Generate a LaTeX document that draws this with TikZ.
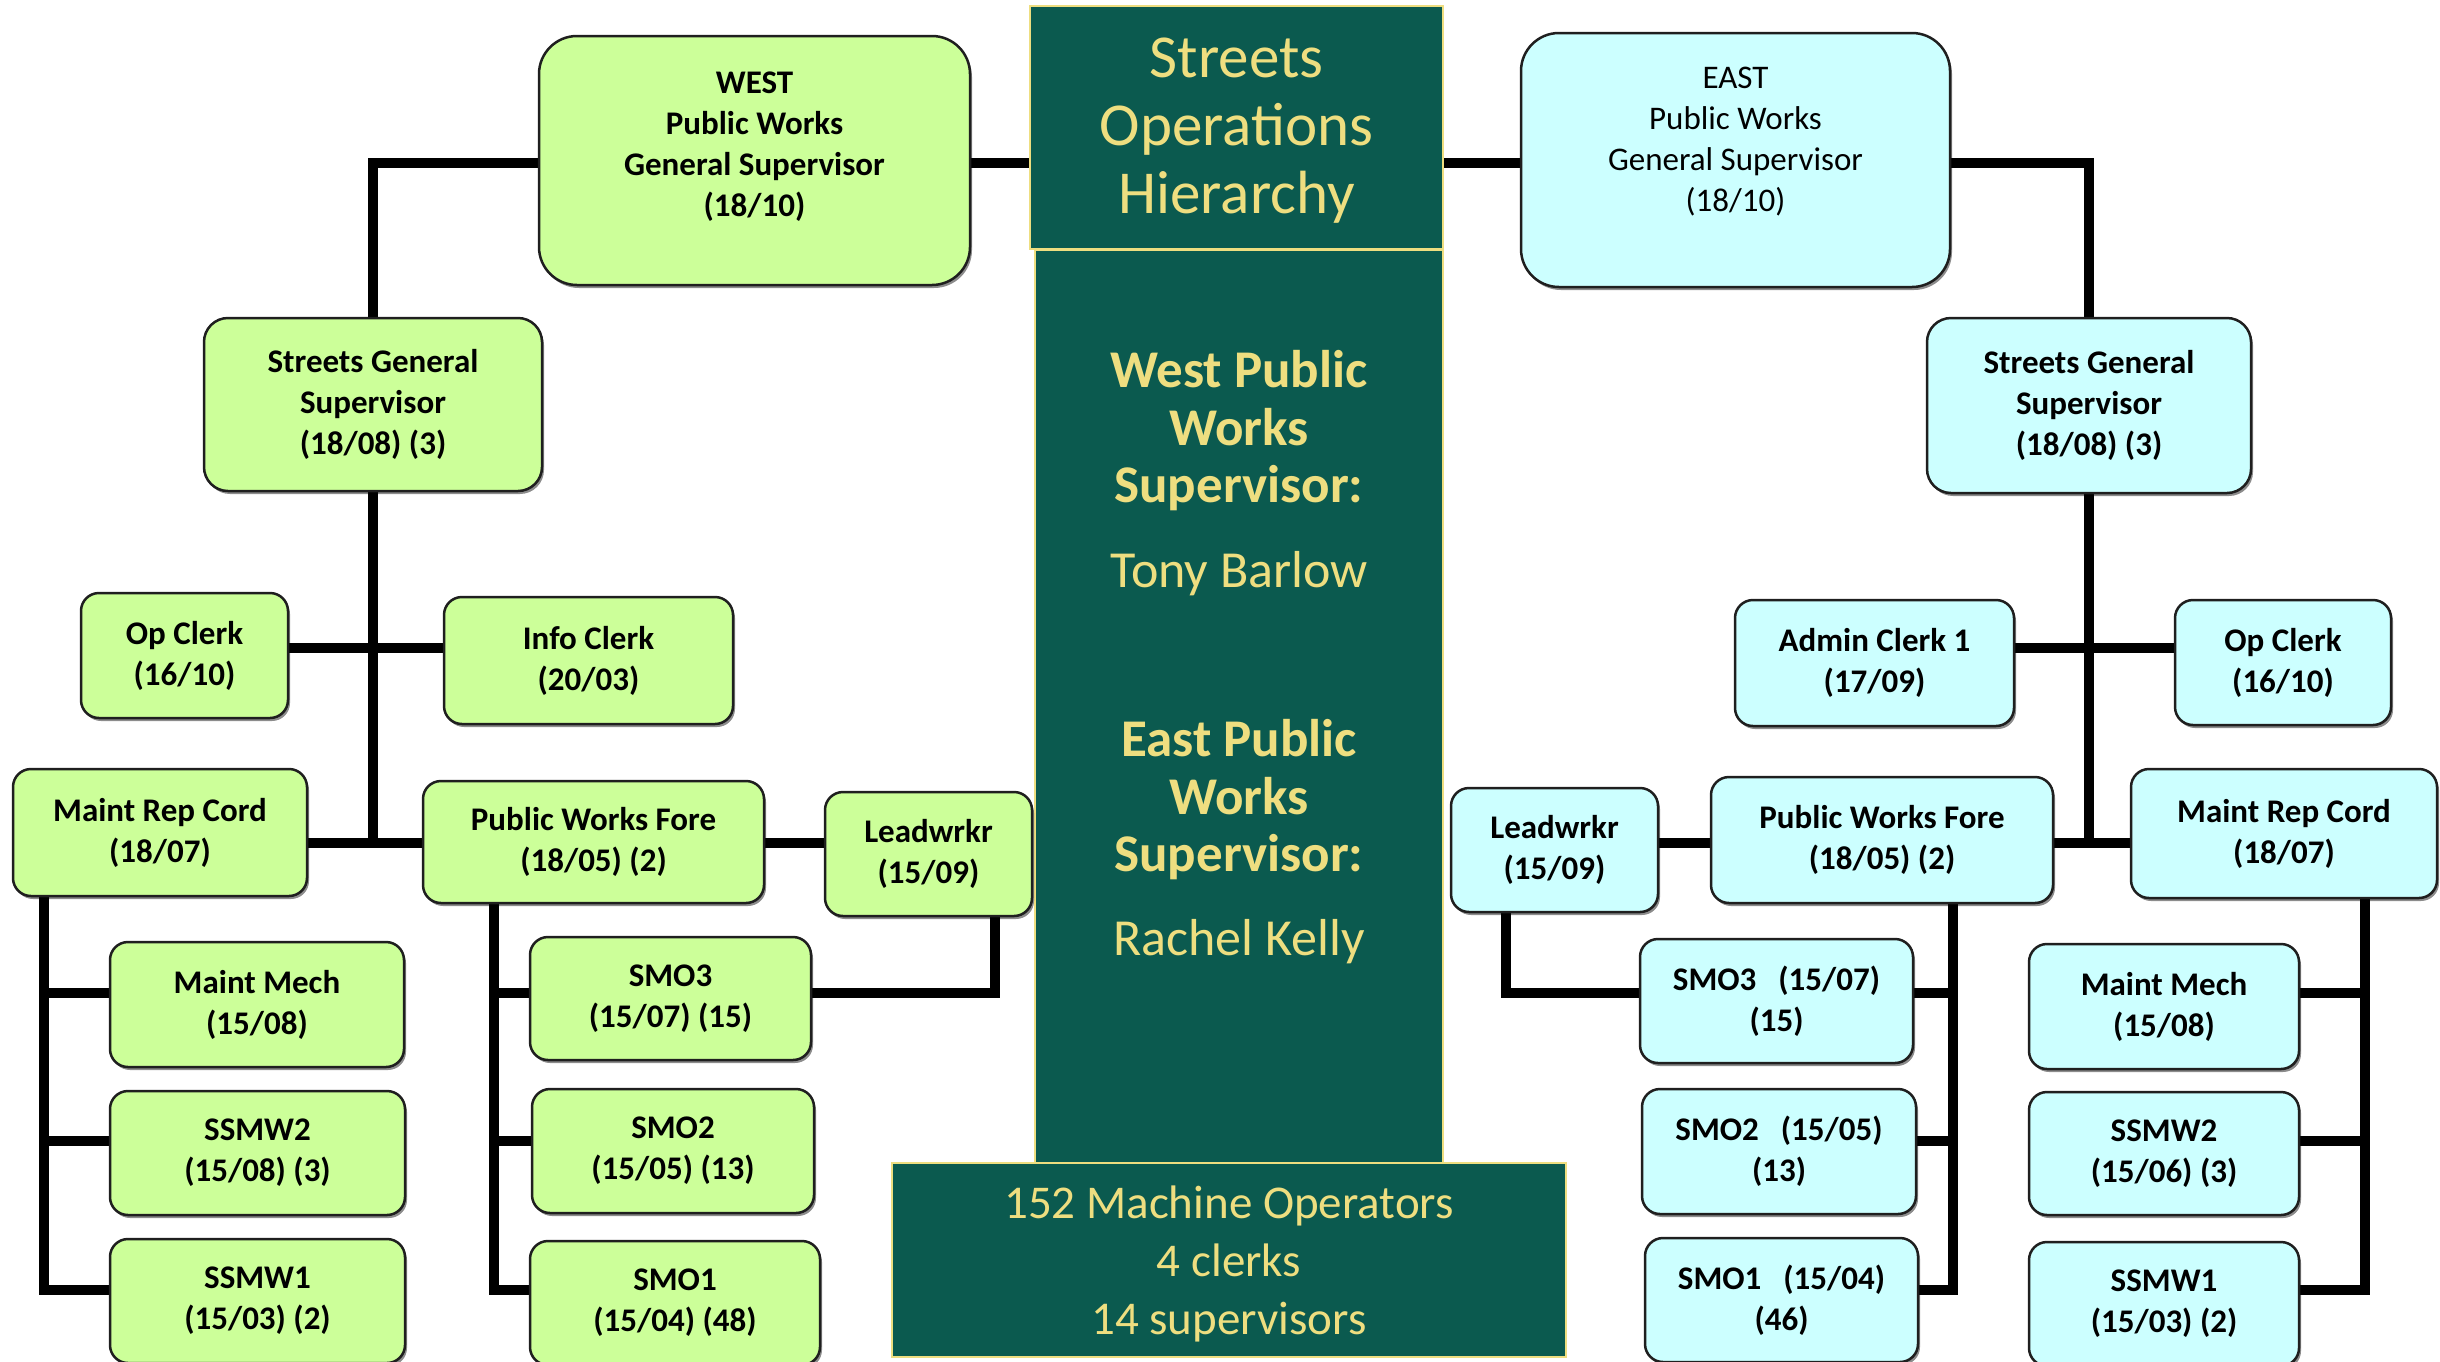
\documentclass[tikz,border=0pt]{standalone}
\usepackage{fontspec}
\setmainfont{Carlito}
\usetikzlibrary{shadows}
\pgfdeclarelayer{bg}
\pgfsetlayers{bg,main}
\definecolor{panelbg}{RGB}{11,90,79}
\definecolor{panelfg}{RGB}{238,222,128}
\definecolor{wfill}{RGB}{204,255,153}
\definecolor{efill}{RGB}{204,255,255}
\begin{document}
\begin{tikzpicture}[x=1pt,y=-1pt,
  sz/.style 2 args={minimum width=#1pt, minimum height=#2pt},
  box/.style={draw=black!88, line width=2.5pt, rounded corners=18pt, align=center,
    inner sep=0pt, font=\bfseries\fontsize{33}{41}\selectfont,
    drop shadow={shadow xshift=2pt, shadow yshift=-3pt, opacity=.45, fill=black}},
  wbox/.style={box, fill=wfill},
  ebox/.style={box, fill=efill},
  toptext/.style={align=center, inner sep=0pt, font=\bfseries\fontsize{33}{41}\selectfont},
  panel/.style={fill=panelbg, draw=panelfg, line width=2pt, text=panelfg, align=center, inner sep=0pt},
  midtext/.style={text=panelfg, align=center, inner sep=0pt},
  conn/.style={line width=10pt, line join=miter, line cap=rect}]
\useasboundingbox (0,0) rectangle (2440,1361);
\clip (0,0) rectangle (2440,1361);

% centre panels
\node[panel, sz={408}{913}] (mid) at (1239,706.5) {};
\node[panel, sz={413}{243}] (title) at (1236.5,127.5) {};
\node[midtext, font=\fontsize{61}{68}\selectfont] (titlet) at (1236.5,130.5) {Streets\\Operations\\Hierarchy};
\node[panel, sz={674}{194}] (count) at (1229,1260) {};
\node[midtext, font=\fontsize{47}{58}\selectfont] (countt) at (1229,1264) {152 Machine Operators\\4 clerks\\14 supervisors};
\node[midtext, font=\bfseries\fontsize{53}{57.5}\selectfont] (wsup) at (1239,431) {West Public\\Works\\Supervisor:};
\node[midtext, font=\fontsize{52}{58}\selectfont] (wname) at (1239,574) {Tony Barlow};
\node[midtext, font=\bfseries\fontsize{53}{57.5}\selectfont] (esup) at (1239,800) {East Public\\Works\\Supervisor:};
\node[midtext, font=\fontsize{52}{58}\selectfont] (ename) at (1239,942) {Rachel Kelly};

% west
\node[wbox, rounded corners=38pt, sz={431}{249}] (wtop) at (754.5,160.5) {};
\node[toptext] (wtopt) at (754.5,147) {WEST\\Public Works\\General Supervisor\\(18/10)};
\node[wbox, rounded corners=24pt, sz={338}{173}] (wsgs) at (373,404.5) {Streets General\\Supervisor\\(18/08) (3)};
\node[wbox, sz={207}{125}] (wop) at (184.5,655.5) {Op Clerk\\(16/10)};
\node[wbox, sz={289}{127}] (winfo) at (588.5,660.5) {Info Clerk\\(20/03)};
\node[wbox, sz={294}{127}] (wmrc) at (160,832.5) {Maint Rep Cord\\(18/07)};
\node[wbox, sz={341}{122}] (wpwf) at (593.5,842) {Public Works Fore\\(18/05) (2)};
\node[wbox, sz={207}{124}] (wlead) at (928.5,854) {Leadwrkr\\(15/09)};
\node[wbox, sz={294}{125}] (wmm) at (257,1004.5) {Maint Mech\\(15/08)};
\node[wbox, sz={295}{124}] (wss2) at (257.5,1153) {SSMW2\\(15/08) (3)};
\node[wbox, sz={295}{124}] (wss1) at (257.5,1301) {SSMW1\\(15/03) (2)};
\node[wbox, sz={281}{123}] (wsmo3) at (670.5,998.5) {SMO3\\(15/07) (15)};
\node[wbox, sz={282}{124}] (wsmo2) at (673,1151) {SMO2\\(15/05) (13)};
\node[wbox, sz={290}{124}] (wsmo1) at (675,1303) {SMO1\\(15/04) (48)};

% east
\node[ebox, rounded corners=38pt, sz={429}{254}] (etop) at (1735.5,160) {};
\node[toptext, font=\fontsize{33}{41}\selectfont] (etopt) at (1735.5,142) {EAST\\Public Works\\General Supervisor\\(18/10)};
\node[ebox, rounded corners=24pt, sz={324}{175}] (esgs) at (2089,405.5) {Streets General\\Supervisor\\(18/08) (3)};
\node[ebox, sz={279}{126}] (eadmin) at (1874.5,663) {Admin Clerk 1\\(17/09)};
\node[ebox, sz={216}{125}] (eop) at (2283,662.5) {Op Clerk\\(16/10)};
\node[ebox, sz={207}{124}] (elead) at (1554.5,850) {Leadwrkr\\(15/09)};
\node[ebox, sz={342}{126}] (epwf) at (1882,840) {Public Works Fore\\(18/05) (2)};
\node[ebox, sz={306}{129}] (emrc) at (2284,833.5) {Maint Rep Cord\\(18/07)};
\node[ebox, sz={273}{124}] (esmo3) at (1776.5,1001) {SMO3\hspace{22pt}(15/07)\\(15)};
\node[ebox, sz={274}{125}] (esmo2) at (1779,1151.5) {SMO2\hspace{22pt}(15/05)\\(13)};
\node[ebox, sz={273}{124}] (esmo1) at (1781.5,1300) {SMO1\hspace{22pt}(15/04)\\(46)};
\node[ebox, sz={270}{125}] (emm) at (2164,1006.5) {Maint Mech\\(15/08)};
\node[ebox, sz={270}{123}] (ess2) at (2164,1153.5) {SSMW2\\(15/06) (3)};
\node[ebox, sz={270}{124}] (ess1) at (2164,1304) {SSMW1\\(15/03) (2)};

% levels and spine points
\coordinate (lvt) at (0,163);
\coordinate (lvc) at (0,648);
\coordinate (lvs) at (0,843);
\coordinate (lv1) at (0,993);
\coordinate (lv2) at (0,1141);
\coordinate (lv3) at (0,1290);
\coordinate (wmx) at ([xshift=-116.5pt]wmrc.south);
\coordinate (wpx) at ([xshift=-100pt]wpwf.south);
\coordinate (wlx) at ([xshift=66pt]wlead.south);
\coordinate (elx) at ([xshift=-48.5pt]elead.south);
\coordinate (epx) at ([xshift=71pt]epwf.south);
\coordinate (emx) at ([xshift=81pt]emrc.south);

\begin{pgfonlayer}{bg}
\draw[conn] (wtop.west |- lvt) -| (wsgs.north);
\draw[conn] (wtop.east |- lvt) -- (title.west |- lvt);
\draw[conn] (title.east |- lvt) -- (etop.west |- lvt);
\draw[conn] (etop.east |- lvt) -| (esgs.north);
% west
\draw[conn] (wsgs.south) -- (wsgs.south |- lvs);
\draw[conn] (wop.east |- lvc) -- (winfo.west |- lvc);
\draw[conn] (wmrc.east |- lvs) -- (wpwf.west |- lvs);
\draw[conn] (wpwf.east |- lvs) -- (wlead.west |- lvs);
\draw[conn] (wlx) |- (wsmo3.east |- lv1);
\draw[conn] (wmx) -- (wmx |- lv3) -- (wss1.west |- lv3);
\draw[conn] (wmx |- lv1) -- (wmm.west |- lv1);
\draw[conn] (wmx |- lv2) -- (wss2.west |- lv2);
\draw[conn] (wpx) -- (wpx |- lv3) -- (wsmo1.west |- lv3);
\draw[conn] (wpx |- lv1) -- (wsmo3.west |- lv1);
\draw[conn] (wpx |- lv2) -- (wsmo2.west |- lv2);
% east
\draw[conn] (esgs.south) -- (esgs.south |- lvs);
\draw[conn] (eadmin.east |- lvc) -- (eop.west |- lvc);
\draw[conn] (elead.east |- lvs) -- (epwf.west |- lvs);
\draw[conn] (epwf.east |- lvs) -- (emrc.west |- lvs);
\draw[conn] (elx) |- (esmo3.west |- lv1);
\draw[conn] (epx) -- (epx |- lv3) -- (esmo1.east |- lv3);
\draw[conn] (epx |- lv1) -- (esmo3.east |- lv1);
\draw[conn] (epx |- lv2) -- (esmo2.east |- lv2);
\draw[conn] (emx) -- (emx |- lv3) -- (ess1.east |- lv3);
\draw[conn] (emx |- lv1) -- (emm.east |- lv1);
\draw[conn] (emx |- lv2) -- (ess2.east |- lv2);
\end{pgfonlayer}
\end{tikzpicture}
\end{document}
